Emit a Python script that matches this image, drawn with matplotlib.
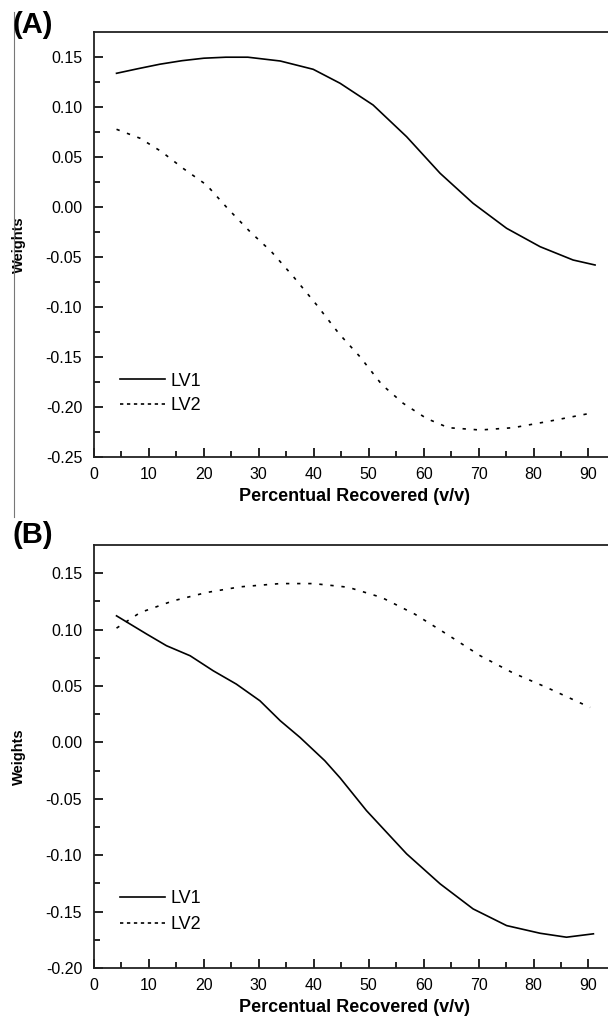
import matplotlib
matplotlib.use("Agg")
import matplotlib.pyplot as plt
from matplotlib.lines import Line2D

plt.rcParams['font.family'] = ['Liberation Sans', 'DejaVu Sans']
plt.rcParams['lines.scale_dashes'] = False

# ---- Data ----
xA_lv1 = [4.1, 8, 12, 16, 20, 24, 28, 33.9, 39.9, 44.8, 50.8, 56.9, 63.0, 69.0, 75.1, 81.2, 87.2, 91.2]
yA_lv1 = [0.1334, 0.138, 0.1425, 0.146, 0.1485, 0.1495, 0.1495, 0.1457, 0.1374, 0.1234, 0.1017, 0.070, 0.0334, 0.0034, -0.0216, -0.040, -0.0533, -0.0583]

xA_lv2 = [4.1, 8.4, 12.3, 16.3, 20.5, 24.3, 28.4, 32.3, 36.3, 40.5, 44.6, 48.4, 52.4, 56.3, 60.5, 64.5, 70.3, 76.3, 82.4, 90.9]
yA_lv2 = [0.0774, 0.0684, 0.055, 0.038, 0.0217, -0.0016, -0.025, -0.045, -0.070, -0.098, -0.127, -0.150, -0.178, -0.1967, -0.2117, -0.221, -0.2233, -0.221, -0.215, -0.206]

xB_lv1 = [4.1, 9.6, 13.2, 17.5, 21.7, 25.9, 30.2, 33.9, 37.5, 42.0, 44.8, 49.6, 56.9, 63.0, 69.0, 75.1, 81.2, 86.0, 90.9]
yB_lv1 = [0.1122, 0.096, 0.0857, 0.0768, 0.0635, 0.0517, 0.0369, 0.0192, 0.0044, -0.0162, -0.0315, -0.0605, -0.0988, -0.1254, -0.1476, -0.1624, -0.1692, -0.1727, -0.1697]

xB_lv2 = [4.1, 8.4, 14.4, 20.5, 26.6, 33.9, 39.9, 44.5, 46.3, 52.4, 58.4, 64.2, 70.3, 76.3, 82.4, 90.3]
yB_lv2 = [0.1013, 0.1151, 0.1255, 0.1329, 0.1379, 0.1408, 0.1408, 0.1385, 0.1375, 0.1284, 0.1137, 0.096, 0.0768, 0.0615, 0.0487, 0.031]

xticks = [0, 10, 20, 30, 40, 50, 60, 70, 80, 90]
yticksA = [0.15, 0.10, 0.05, 0.00, -0.05, -0.10, -0.15, -0.20, -0.25]
yticksB = [0.15, 0.10, 0.05, 0.00, -0.05, -0.10, -0.15, -0.20]

W, H = 608, 1023
fig = plt.figure(figsize=(W / 100, H / 100), dpi=100)

px_per_x = 5.494
xmax = 95
left = 94
axw = xmax * px_per_x

def make_axes(top, bottom):
    return fig.add_axes([left / W, 1 - bottom / H, axw / W, (bottom - top) / H])

topA, botA = 31.7, 456.7
topB, botB = 545.0, 968.0
axA = make_axes(topA, botA)
axB = make_axes(topB, botB)

def style(ax, yticks, ylim):
    ax.set_xlim(0, xmax)
    ax.set_ylim(*ylim)
    ax.set_xticks(xticks)
    ax.set_xticks([v + 5 for v in xticks], minor=True)
    ax.set_yticks(yticks)
    ax.set_yticks([v + 0.025 for v in yticks[1:]], minor=True)
    ax.set_yticklabels([f"{v:.2f}" for v in yticks])
    ax.tick_params(which='both', direction='in', top=False, right=False, labelsize=11.5, width=1.2)
    ax.tick_params(axis='y', pad=8.5)
    ax.tick_params(axis='x', pad=7.5)
    ax.tick_params(which='major', length=6.5)
    ax.tick_params(which='minor', length=4)
    for s in ['left', 'bottom', 'top']:
        ax.spines[s].set_linewidth(1.3)
        ax.spines[s].set_color('#222222')
    ax.spines['right'].set_visible(False)
    ax.set_xlabel('Percentual Recovered (v/v)', fontsize=13, fontweight='bold', labelpad=4)
    ax.set_ylabel('Weights', fontsize=10.5, fontweight='bold')
    ax.yaxis.set_label_coords((26 - left) / axw, 0.5)

style(axA, yticksA, (-0.25, 0.175))
style(axB, yticksB, (-0.20, 0.175))

lw = 1.2
axA.plot(xA_lv1, yA_lv1, color='black', lw=lw, label='LV1')
axA.plot(xA_lv2, yA_lv2, color='black', lw=lw, dashes=(2.4, 5.6), label='LV2')
axB.plot(xB_lv1, yB_lv1, color='black', lw=lw, label='LV1')
axB.plot(xB_lv2, yB_lv2, color='black', lw=lw, dashes=(2.4, 5.6), label='LV2')

# legend centres (pixels) for each panel
for ax, top, bot, mid, sp in [(axA, topA, botA, 393.5, 0.42), (axB, topB, botB, 911.5, 0.5)]:
    leg = ax.legend(loc='center left', bbox_to_anchor=((120 - left) / axw, (bot - mid) / (bot - top)),
                    frameon=False, fontsize=13, handlelength=2.5, handletextpad=0.28,
                    labelspacing=sp, borderaxespad=0, borderpad=0)
    for h in leg.get_lines():
        h.set_linewidth(1.2)
    leg.get_lines()[1].set_dashes((2.4, 2.6))

fig.text(13 / W, 1 - 11 / H, '(A)', fontsize=21, fontweight='bold', va='top', ha='left')
fig.text(13 / W, 1 - 521 / H, '(B)', fontsize=21, fontweight='bold', va='top', ha='left')
fig.add_artist(Line2D([14 / W, 14 / W], [1 - 12 / H, 1 - 517 / H], color='#777777', lw=0.8))

fig.savefig('out.png', dpi=100)
